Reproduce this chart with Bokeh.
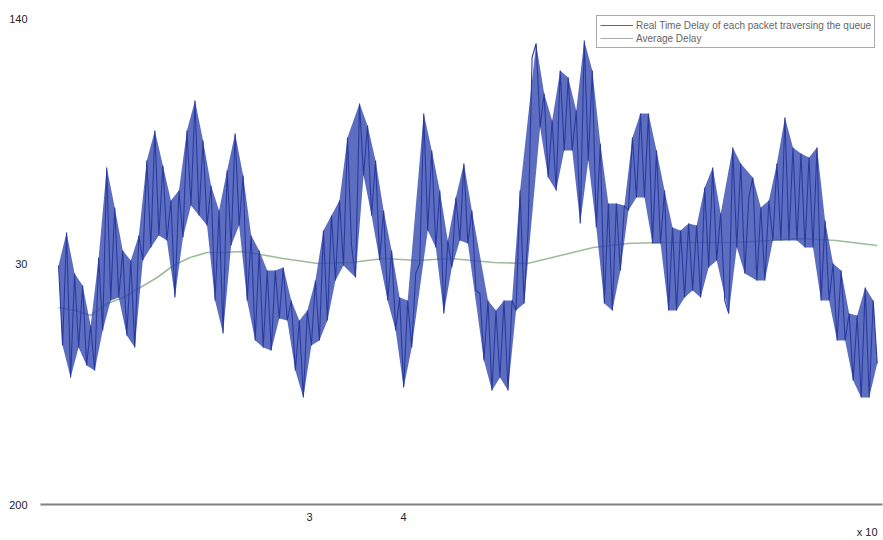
from bokeh.plotting import figure
from bokeh.models import Range1d, FixedTicker, Legend, LegendItem, Title
from bokeh.embed import file_html
from bokeh.resources import INLINE
import numpy as np

# ---- data ----
# real-time delay of each packet, evenly sampled between these packet indices
sample_start, sample_end = 33000, 904000
delay = [
    23.9, 15.9, 27.2, 12.7, 23.1, 15.7, 21.9, 13.9, 17.9, 13.4,
    24.7, 17.4, 33.7, 20.4, 29.7, 20.7, 25.4, 16.9, 24.4, 15.7,
    26.9, 24.4, 34.4, 25.7, 37.4, 26.9, 33.9, 26.4, 30.4, 20.7,
    31.4, 26.7, 37.4, 29.9, 40.4, 28.9, 36.4, 27.9, 31.9, 20.4,
    29.4, 17.1, 33.4, 25.9, 37.1, 27.9, 32.9, 20.4, 26.9, 16.4,
    25.4, 15.7, 23.4, 15.4, 23.4, 18.6, 23.7, 18.4, 20.4, 13.4,
    18.4, 10.7, 19.4, 15.9, 22.4, 16.4, 27.4, 18.4, 28.9, 22.4,
    30.4, 23.9, 36.7, 25.9, 22.7, 40.1, 32.9, 37.9, 28.9, 34.4,
    24.4, 29.4, 20.4, 25.4, 17.4, 20.7, 11.7, 20.4, 15.7, 23.1,
    24.1, 39.1, 27.4, 35.4, 25.7, 31.4, 19.1, 26.4, 23.7, 30.7,
    26.4, 34.1, 26.1, 29.4, 21.4, 21.1, 14.4, 20.4, 11.4, 19.4,
    12.7, 20.4, 11.4, 20.4, 19.4, 31.4, 20.1, 27.4, 44.7, 46.1,
    37.7, 41.1, 32.7, 38.4, 31.4, 43.4, 35.4, 42.7, 35.4, 39.4,
    28.1, 46.4, 34.4, 43.4, 27.7, 36.1, 20.1, 30.1, 19.4, 30.1,
    23.4, 29.9, 29.4, 36.7, 30.7, 39.1, 30.7, 39.1, 26.1, 35.4,
    26.1, 31.4, 19.4, 27.7, 19.4, 27.4, 20.7, 28.1, 21.4, 27.9,
    20.7, 31.7, 23.7, 33.7, 24.4, 29.1, 20.4, 19.1, 35.7, 25.7,
    34.1, 23.1, 30.7, 32.7, 22.4, 29.7, 22.4, 30.4, 26.4, 34.1,
    26.4, 38.7, 26.4, 35.7, 26.4, 35.1, 25.7, 34.7, 25.7, 35.7,
    20.4, 28.4, 20.4, 24.1, 16.4, 23.4, 16.4, 19.1, 12.4, 18.9,
    10.7, 21.7, 10.7, 20.4, 14.1,
]

# average delay curve
avg_x = [33000, 51000, 67000, 85000, 102000, 120000, 138000, 155000, 173000,
         191000, 209000, 227000, 248000, 272000, 309000, 344000, 379000,
         415000, 450000, 496000, 532000, 567000, 602000, 638000, 673000,
         716000, 753000, 790000, 823000, 860000, 904000]
avg_y = [19.7, 19.4, 18.9, 20.1, 20.7, 21.7, 22.7, 23.9, 24.7, 25.2, 25.2,
         25.3, 25.0, 24.6, 24.1, 24.2, 24.6, 24.4, 24.6, 24.2, 24.1, 24.9,
         25.7, 26.1, 26.2, 26.2, 26.2, 26.4, 26.6, 26.4, 25.9]

y_ticks = [0, 24.1, 48.6]
y_tick_labels = ["200", "30", "140"]
x_ticks = [300000, 400000]
x_tick_labels = ["3", "4"]
x_scale_note = "x 10"
series_names = ["Real Time Delay of each packet traversing the queue", "Average Delay"]

FONT = "Liberation Sans"
BLUE_FILL = "#3549b0"
BLUE_LINE = "#2a3b9f"

p = figure(width=883, height=540,
           x_range=Range1d(13800, 909600), y_range=Range1d(0, 49.4),
           output_backend="svg", toolbar_location=None,
           min_border_left=40, min_border_right=1,
           min_border_top=10, min_border_bottom=36)
p.outline_line_color = None
p.grid.visible = False
p.background_fill_color = "white"

x = np.linspace(sample_start, sample_end, len(delay))
d = np.array(delay)
n = len(d)

# envelope of the dense noise band: local maxima forward, local minima back
prev_d = np.r_[d[0], d[:-1]]
next_d = np.r_[d[1:], d[-1]]
is_peak = (d >= prev_d) & (d >= next_d)
is_trough = (d <= prev_d) & (d <= next_d)
is_peak[[0, n - 1]] = True
is_trough[[0, n - 1]] = True
band_x = np.r_[x[is_peak], x[is_trough][::-1]]
band_y = np.r_[d[is_peak], d[is_trough][::-1]]

p.line(avg_x, avg_y, line_color="#9dbc9a", line_width=1.6)
p.patch(band_x, band_y, fill_color=BLUE_FILL, fill_alpha=0.8, line_color=None)
p.line(x, delay, line_color=BLUE_LINE, line_width=1.1)

# legend proxies (legend samples appear grey in the picture)
r1 = p.line([sample_start], [float("nan")], line_color="#666666", line_width=1)
r2 = p.line([sample_start], [float("nan")], line_color="#aaaaaa", line_width=1)
legend = Legend(items=[LegendItem(label=series_names[0], renderers=[r1]),
                       LegendItem(label=series_names[1], renderers=[r2])],
                location=(556, 456), orientation="vertical",
                label_text_font=FONT, label_text_font_size="10px",
                label_text_color="#666666", label_height=12, glyph_height=12,
                glyph_width=33, label_standoff=3, spacing=1, padding=3,
                margin=0, border_line_color="#555555", border_line_width=1,
                background_fill_color="white", background_fill_alpha=1.0)
p.add_layout(legend)

# y axis
p.yaxis.ticker = FixedTicker(ticks=y_ticks)
p.yaxis.major_label_overrides = {t: s for t, s in zip(y_ticks, y_tick_labels)}
p.yaxis.axis_line_color = None
p.yaxis.major_tick_line_color = None
p.yaxis.minor_tick_line_color = None
p.yaxis.major_label_text_font = FONT
p.yaxis.major_label_text_font_size = "11px"
p.yaxis.major_label_text_color = "#222222"
p.yaxis.major_label_standoff = 7

# x axis
p.xaxis.ticker = FixedTicker(ticks=x_ticks)
p.xaxis.major_label_overrides = {t: s for t, s in zip(x_ticks, x_tick_labels)}
p.xaxis.axis_line_color = "#808080"
p.xaxis.axis_line_width = 2
p.xaxis.major_tick_line_color = None
p.xaxis.major_tick_out = 0
p.xaxis.minor_tick_line_color = None
p.xaxis.minor_tick_out = 0
p.xaxis.major_label_text_font = FONT
p.xaxis.major_label_text_font_size = "11px"
p.xaxis.major_label_text_color = "#222222"
p.xaxis.major_label_standoff = 8

p.add_layout(Title(text=x_scale_note, align="right", offset=5, standoff=0,
                   text_font=FONT, text_font_size="11px",
                   text_font_style="normal", text_color="#222222"), "below")

open("out.html", "w").write(file_html(p, INLINE))
